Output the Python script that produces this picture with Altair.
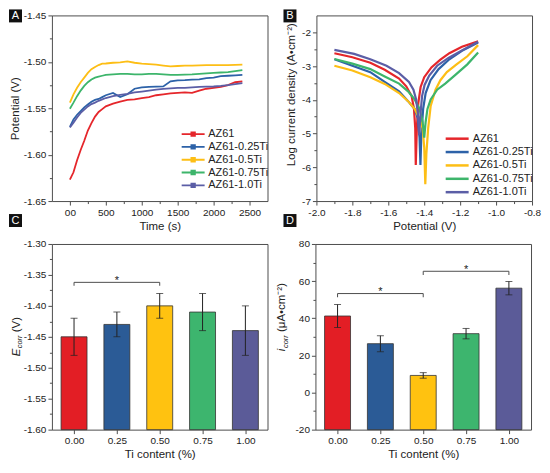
import altair as alt
import pandas as pd

FONT = "Liberation Sans"
INK = "#222222"
FRAME = "#4d4d4d"
W, H = 216, 186

# ---------------- categories / colours ----------------
series = ["AZ61", "AZ61-0.25Ti", "AZ61-0.5Ti", "AZ61-0.75Ti", "AZ61-1.0Ti"]
line_colors = ["#E5262B", "#2D62A8", "#FDBE15", "#3DB56B", "#5B5EA6"]
bar_colors = ["#E31E25", "#2B5B96", "#FFC210", "#3DB56E", "#5B5B98"]

# ---------------- panel A : open circuit potential ----------------
time_s = [0, 50, 100, 150, 200, 250, 300, 350, 400, 450, 500, 600, 700, 800, 900,
          1000, 1100, 1200, 1300, 1400, 1500, 1600, 1700, 1800, 1900, 2000, 2100, 2200, 2300, 2400]
ocp_az61 = [-1.627, -1.619, -1.606, -1.595, -1.585, -1.574, -1.566, -1.559, -1.554, -1.551,
            -1.548, -1.545, -1.543, -1.541, -1.5405, -1.539, -1.538, -1.536, -1.535, -1.534,
            -1.5335, -1.533, -1.5335, -1.531, -1.529, -1.528, -1.527, -1.525, -1.522, -1.521]
ocp_025 = [-1.570, -1.562, -1.557, -1.553, -1.549, -1.546, -1.543, -1.541, -1.540, -1.538,
           -1.536, -1.5335, -1.538, -1.535, -1.529, -1.5275, -1.527, -1.5268, -1.5265, -1.521,
           -1.520, -1.5197, -1.5192, -1.519, -1.5175, -1.517, -1.5155, -1.515, -1.5145, -1.514]
ocp_05 = [-1.544, -1.535, -1.528, -1.522, -1.517, -1.512, -1.508, -1.5055, -1.5035, -1.502,
          -1.5018, -1.501, -1.5005, -1.4995, -1.501, -1.502, -1.5025, -1.503, -1.504, -1.505,
          -1.5045, -1.504, -1.504, -1.5038, -1.5035, -1.5035, -1.5035, -1.5035, -1.5032, -1.503]
ocp_075 = [-1.5505, -1.544, -1.537, -1.531, -1.526, -1.522, -1.519, -1.517, -1.516, -1.515,
           -1.514, -1.5135, -1.513, -1.513, -1.5135, -1.5135, -1.513, -1.513, -1.5135, -1.514,
           -1.514, -1.5138, -1.5135, -1.513, -1.5125, -1.512, -1.5115, -1.511, -1.510, -1.509]
ocp_10 = [-1.5707, -1.5655, -1.560, -1.555, -1.5515, -1.548, -1.5455, -1.544, -1.542, -1.5405,
          -1.539, -1.537, -1.5355, -1.5345, -1.533, -1.532, -1.531, -1.530, -1.5292, -1.5286,
          -1.528, -1.528, -1.5275, -1.527, -1.5268, -1.5266, -1.526, -1.525, -1.524, -1.523]

# ---------------- panel B : polarisation curves ----------------
pd_az61_E = [-1.90, -1.80, -1.70, -1.62, -1.54, -1.50, -1.47, -1.457, -1.45, -1.447,
             -1.441, -1.433, -1.42, -1.40, -1.36, -1.31, -1.26, -1.19, -1.10]
pd_az61_logi = [-2.62, -2.74, -2.90, -3.11, -3.37, -3.60, -3.89, -4.27, -4.84, -5.93,
                -4.84, -4.10, -3.62, -3.33, -3.04, -2.81, -2.62, -2.43, -2.27]
pd_025_E = [-1.90, -1.80, -1.70, -1.62, -1.54, -1.49, -1.453, -1.435, -1.426, -1.421,
            -1.416, -1.406, -1.392, -1.365, -1.32, -1.26, -1.19, -1.10]
pd_025_logi = [-2.80, -2.99, -3.18, -3.47, -3.75, -4.04, -4.27, -4.56, -5.12, -5.93,
               -5.03, -4.27, -3.80, -3.42, -3.09, -2.80, -2.55, -2.30]
pd_05_E = [-1.90, -1.80, -1.70, -1.62, -1.54, -1.49, -1.453, -1.426, -1.409, -1.400,
           -1.394, -1.388, -1.378, -1.364, -1.337, -1.31, -1.274, -1.22, -1.16, -1.10]
pd_05_logi = [-2.99, -3.13, -3.33, -3.53, -3.80, -4.04, -4.27, -4.56, -4.84, -5.41,
              -6.50, -5.60, -4.84, -4.18, -3.70, -3.42, -3.18, -2.95, -2.71, -2.38]
pd_075_E = [-1.90, -1.80, -1.70, -1.62, -1.54, -1.49, -1.453, -1.426, -1.409, -1.400,
            -1.392, -1.382, -1.364, -1.328, -1.283, -1.22, -1.16, -1.10]
pd_075_logi = [-2.79, -2.93, -3.09, -3.31, -3.52, -3.75, -3.99, -4.27, -4.65, -5.12,
               -4.65, -4.27, -3.99, -3.70, -3.52, -3.23, -2.95, -2.60]
pd_10_E = [-1.90, -1.79, -1.70, -1.61, -1.54, -1.485, -1.46, -1.445, -1.436, -1.428,
           -1.42, -1.412, -1.398, -1.372, -1.328, -1.265, -1.185, -1.10]
pd_10_logi = [-2.52, -2.64, -2.80, -2.99, -3.21, -3.47, -3.70, -3.99, -4.37, -5.05,
              -4.37, -3.89, -3.56, -3.28, -2.99, -2.76, -2.52, -2.28]

# ---------------- panels C / D : Ecorr and icorr ----------------
ti_content = [0.00, 0.25, 0.50, 0.75, 1.00]
ecorr = [-1.45, -1.43, -1.40, -1.41, -1.44]
ecorr_sd = [0.03, 0.02, 0.02, 0.03, 0.04]
icorr = [41.2, 26.3, 9.2, 31.7, 56.2]
icorr_sd = [6.2, 4.3, 1.5, 2.8, 3.6]
sig_c_from, sig_c_to, sig_c_level = [0.0], [0.5], [-1.362]
sig_d_from, sig_d_to, sig_d_level = [0.0, 0.5], [0.5, 1.0], [53.3, 65.3]

# ---------------- tick positions ----------------
a_x_ticks = [0, 250, 500, 750, 1000, 1250, 1500, 1750, 2000, 2250, 2500]
a_y_ticks = [-1.65, -1.625, -1.6, -1.575, -1.55, -1.525, -1.5, -1.475, -1.45]
b_x_ticks = [-2.0, -1.9, -1.8, -1.7, -1.6, -1.5, -1.4, -1.3, -1.2, -1.1, -1.0, -0.9, -0.8]
b_y_ticks = [-7, -6.5, -6, -5.5, -5, -4.5, -4, -3.5, -3, -2.5, -2]
c_y_ticks = [-1.6, -1.575, -1.55, -1.525, -1.5, -1.475, -1.45, -1.425, -1.4, -1.375,
             -1.35, -1.325, -1.3]
d_y_ticks = [-20, -10, 0, 10, 20, 30, 40, 50, 60, 70, 80]
ti_ticks = [0.0, 0.25, 0.5, 0.75, 1.0]

LINE_SYMBOL = "M-2.3,0L2.3,0"
LINE_DOT_SYMBOL = "M-2.3,0L2.3,0M-0.35,-0.35L0.35,-0.35L0.35,0.35L-0.35,0.35Z"


def tsize(minor_test):
    return {"condition": {"test": minor_test, "value": 2.5}, "value": 4}


def fmt(spec):
    return "replace(format(datum.value, '" + spec + "'), '\u2212', '-')"


def axis(values, label_expr, minor_test, title, title_pad=3, **kw):
    return alt.Axis(values=values, labelExpr=label_expr, tickSize=tsize(minor_test),
                    title=title, labelPadding=2, labelFlush=False, labelOverlap=False,
                    titlePadding=title_pad, **kw)


def legend(symbol, stroke_w, row_pad, lx, ly):
    return alt.Legend(title=None, orient="none", legendX=lx, legendY=ly, direction="vertical",
                      symbolType=symbol, symbolSize=100, symbolStrokeWidth=stroke_w,
                      symbolOffset=6.5, labelOffset=9, labelFont=FONT, labelFontSize=11,
                      labelColor=INK, rowPadding=row_pad, padding=0)


def tag_layers(letter, x0, y0):
    d = pd.DataFrame({"tag": [letter]})
    box = alt.Chart(d).mark_rect(color="#111111").encode(
        x=alt.value(x0), x2=alt.value(x0 + 13), y=alt.value(y0), y2=alt.value(y0 + 13))
    txt = alt.Chart(d).mark_text(color="white", font=FONT, fontSize=11, align="center",
                                 baseline="middle").encode(
        x=alt.value(x0 + 6.5), y=alt.value(y0 + 7), text="tag:N")
    return [box, txt]


def anchor(x0):
    d = pd.DataFrame({"a": [0]})
    return alt.Chart(d).mark_rect(opacity=0).encode(
        x=alt.value(x0), x2=alt.value(x0 + 1), y=alt.value(60), y2=alt.value(61))


def title_piece(txt, x, y, size, italic):
    d = pd.DataFrame({"t": [txt]})
    return alt.Chart(d).mark_text(angle=270, align="left", baseline="alphabetic", font=FONT,
                                  fontSize=size, fontStyle="italic" if italic else "normal",
                                  color=INK).encode(x=alt.value(x), y=alt.value(y), text="t:N")


# ---------------- panel A chart ----------------
df_a = pd.concat([pd.DataFrame({"time": time_s, "potential": v, "series": s})
                  for s, v in zip(series, [ocp_az61, ocp_025, ocp_05, ocp_075, ocp_10])])

lines_a = alt.Chart(df_a).mark_line(strokeWidth=1.8).encode(
    x=alt.X("time:Q", scale=alt.Scale(domain=[-250, 2750], nice=False, zero=False),
            axis=axis(a_x_ticks,
                      "datum.value === 0 ? '00' : (datum.value % 500 === 0 ? format(datum.value, 'd') : '')",
                      "datum.value % 500 !== 0", "Time (s)")),
    y=alt.Y("potential:Q", scale=alt.Scale(domain=[-1.65, -1.45], nice=False, zero=False),
            axis=axis(a_y_ticks, "round(datum.value*40) % 2 === 0 ? " + fmt(".2f") + " : ''",
                      "round(datum.value*40) % 2 !== 0", "Potential (V)")),
    color=alt.Color("series:N", scale=alt.Scale(domain=series, range=line_colors),
                    legend=legend(LINE_DOT_SYMBOL, 1.8, 0.8, 129, 113)),
)
panel_a = alt.layer(lines_a, *tag_layers("A", -43, -6), *tag_layers("C", -43, 199)).properties(
    width=W, height=H)

# ---------------- panel B chart ----------------
df_b = pd.concat([pd.DataFrame({"E": e, "logi": li, "series": s, "idx": list(range(len(e)))})
                  for s, e, li in zip(series,
                                      [pd_az61_E, pd_025_E, pd_05_E, pd_075_E, pd_10_E],
                                      [pd_az61_logi, pd_025_logi, pd_05_logi, pd_075_logi, pd_10_logi])])

lines_b = alt.Chart(df_b).mark_line(strokeWidth=2.2).encode(
    x=alt.X("E:Q", scale=alt.Scale(domain=[-2.0, -0.8], nice=False, zero=False),
            axis=axis(b_x_ticks, "round(datum.value*10) % 2 === 0 ? " + fmt(".1f") + " : ''",
                      "round(datum.value*10) % 2 !== 0", "Potential (V)")),
    y=alt.Y("logi:Q", scale=alt.Scale(domain=[-7, -1.5], nice=False, zero=False),
            axis=axis(b_y_ticks, "round(datum.value*2) % 2 === 0 ? " + fmt("d") + " : ''",
                      "round(datum.value*2) % 2 !== 0", "Log current density (A\u2022cm\u207b\u00b2)",
                      title_pad=5, titleY=79)),
    color=alt.Color("series:N", scale=alt.Scale(domain=series, range=line_colors),
                    legend=legend(LINE_SYMBOL, 2.5, 1.4, 128, 117)),
    order="idx:Q",
)
panel_b = alt.layer(lines_b, *tag_layers("B", -33, -6), *tag_layers("D", -33, 199),
                    anchor(-40)).properties(width=W, height=H)


# ---------------- bar panels ----------------
def bar_panel(values, sd, domain, y_axis, sig_df, drop):
    df = pd.DataFrame({"ti": ti_content, "val": values, "sd": sd, "series": series})
    x_scale = alt.Scale(domain=[-0.1, 1.1], nice=False, zero=False)
    y_scale = alt.Scale(domain=domain, nice=False, zero=False)
    x_axis = axis(ti_ticks, fmt(".2f"), "false", "Ti content (%)")

    def X(f):
        return alt.X(f + ":Q", scale=x_scale, axis=x_axis)

    def Y(f):
        return alt.Y(f + ":Q", scale=y_scale, axis=y_axis)

    bars = alt.Chart(df).mark_bar(size=26, stroke="#333333", strokeWidth=0.8).encode(
        x=X("ti"), y=Y("val"), y2=alt.datum(domain[0]),
        color=alt.Color("series:N", scale=alt.Scale(domain=series, range=bar_colors), legend=None),
    )
    base = alt.Chart(df).transform_calculate(lo="datum.val - datum.sd", hi="datum.val + datum.sd")
    err = base.mark_rule(color="#222222", strokeWidth=1).encode(x=X("ti"), y=Y("lo"), y2="hi:Q")
    cap_lo = base.mark_tick(orient="horizontal", size=7, thickness=1, color="#222222").encode(
        x=X("ti"), y=Y("lo"))
    cap_hi = base.mark_tick(orient="horizontal", size=7, thickness=1, color="#222222").encode(
        x=X("ti"), y=Y("hi"))

    sb = alt.Chart(sig_df).transform_calculate(low="datum.lvl - " + str(drop),
                                               mid="(datum.x1 + datum.x2) / 2")
    h = sb.mark_rule(color=FRAME, strokeWidth=1).encode(x=X("x1"), x2="x2:Q", y=Y("lvl"))
    lft = sb.mark_rule(color=FRAME, strokeWidth=1).encode(x=X("x1"), y=Y("lvl"), y2="low:Q")
    rgt = sb.mark_rule(color=FRAME, strokeWidth=1).encode(x=X("x2"), y=Y("lvl"), y2="low:Q")
    star = sb.mark_text(text="*", font=FONT, fontSize=11, color=INK, baseline="alphabetic",
                        dy=1.5).encode(x=X("mid"), y=Y("lvl"))
    return [bars, err, cap_lo, cap_hi, h, lft, rgt, star]


sig_c = pd.DataFrame({"x1": sig_c_from, "x2": sig_c_to, "lvl": sig_c_level})
sig_d = pd.DataFrame({"x1": sig_d_from, "x2": sig_d_to, "lvl": sig_d_level})

c_axis = axis(c_y_ticks, "round(datum.value*40) % 2 === 0 ? " + fmt(".2f") + " : ''",
              "round(datum.value*40) % 2 !== 0", None)
d_axis = axis(d_y_ticks, "round(datum.value/10) % 2 === 0 ? " + fmt("d") + " : ''",
              "round(datum.value/10) % 2 !== 0", None)

panel_c = alt.layer(
    *bar_panel(ecorr, ecorr_sd, [-1.6, -1.3], c_axis, sig_c, 0.0055),
    title_piece("E", -32, 112.5, 11.5, True),
    title_piece("corr", -29.5, 104.5, 7.5, True),
    title_piece("(V)", -32, 88.4, 11.5, False),
    anchor(-43),
).properties(width=W, height=H)

panel_d = alt.layer(
    *bar_panel(icorr, icorr_sd, [-20, 80], d_axis, sig_d, 2.0),
    title_piece("i", -30, 107.5, 11.5, True),
    title_piece("corr", -27.5, 104.3, 7.5, True),
    title_piece("(\u03bcA\u2022cm\u207b\u00b2)", -30, 88.2, 11.5, False),
    anchor(-40),
).properties(width=W, height=H)

row1 = alt.hconcat(panel_a, panel_b, spacing=6).resolve_scale(
    color="independent", x="independent", y="independent").resolve_legend(color="independent")
row2 = alt.hconcat(panel_c, panel_d, spacing=6).resolve_scale(
    color="independent", x="independent", y="independent")

chart = alt.vconcat(row1, row2, spacing=6).resolve_scale(
    color="independent", x="independent", y="independent").resolve_legend(
    color="independent").properties(padding=0).configure_view(
    stroke=FRAME, strokeWidth=1).configure_axis(
    grid=False, domain=False, tickColor=FRAME, tickWidth=1, labelFont=FONT, labelFontSize=10,
    labelColor=INK, titleFont=FONT, titleFontSize=11.5, titleColor=INK,
    titleFontWeight="normal", labelOverlap=False).configure_text(font=FONT)

chart.save("out.html", embed_options={"renderer": "svg", "actions": False})
